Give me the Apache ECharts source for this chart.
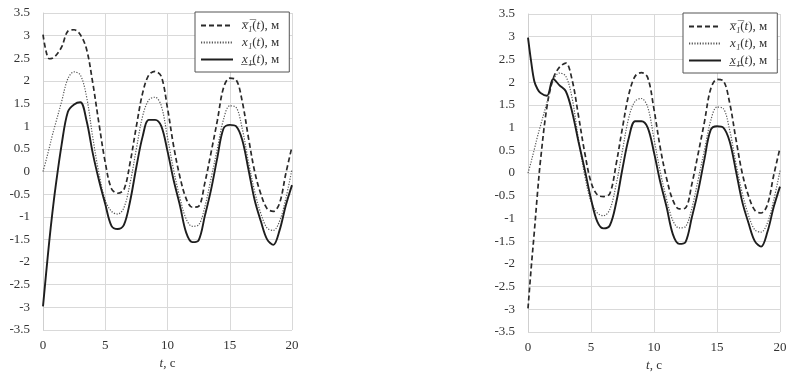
<!DOCTYPE html>
<html>
<head>
<meta charset="utf-8">
<script src="https://cdn.jsdelivr.net/npm/echarts@6/dist/echarts.min.js"></script>
<style>
  html, body { margin: 0; padding: 0; background: #fff; }
  #main { width: 800px; height: 377px; }
</style>
</head>
<body>
<div id="main"></div>
<script>
// time grid, s
var T = [0, 0.25, 0.5, 0.75, 1, 1.5, 2, 2.5, 3, 3.5, 4, 4.5, 5, 5.5, 6, 6.5, 7, 7.5, 8, 8.5,
  9, 9.5, 10, 10.5, 11, 11.5, 12, 12.5, 13, 13.5, 14, 14.5, 15, 15.5, 16, 16.5, 17, 17.5, 18, 18.5,
  19, 19.5, 20];

// left chart
var upperL = [3.02, 2.65, 2.49, 2.5, 2.55, 2.75, 3.1, 3.13, 3.02, 2.7, 1.95, 1.05, 0.2, -0.38, -0.48, -0.4,
  0.2, 1.0, 1.73, 2.13, 2.21, 2.1, 1.4, 0.55, -0.12, -0.6, -0.79, -0.77, -0.25, 0.42, 1.12, 1.85,
  2.06, 2.03, 1.55, 0.75, 0.0, -0.5, -0.82, -0.88, -0.7, -0.05, 0.55];
var midL = [0, 0.25, 0.52, 0.8, 1.05, 1.55, 2.05, 2.2, 2.13, 1.65, 0.75, -0.05, -0.63, -0.88, -0.94, -0.8,
  -0.25, 0.5, 1.22, 1.58, 1.64, 1.45, 0.75, 0.02, -0.58, -1.05, -1.21, -1.18, -0.78, -0.15, 0.5, 1.15,
  1.45, 1.42, 0.95, 0.22, -0.44, -0.93, -1.25, -1.3, -1.1, -0.6, 0.05];
var lowerL = [-2.98, -2.25, -1.55, -0.92, -0.36, 0.6, 1.32, 1.48, 1.53, 1.12, 0.4, -0.2, -0.72, -1.2, -1.27, -1.18,
  -0.65, 0.1, 0.77, 1.14, 1.14, 1.0, 0.45, -0.2, -0.75, -1.35, -1.56, -1.52, -0.98, -0.4, 0.3, 0.95,
  1.03, 1.0, 0.7, 0.05, -0.63, -1.1, -1.5, -1.62, -1.3, -0.75, -0.3];

// right chart (differs from the left one only up to t = 6.5 s)
var upperR = [-2.98, -2.1, -1.3, -0.45, 0.3, 1.45, 2.08, 2.33, 2.42, 2.05, 1.27, 0.45, -0.2, -0.48, -0.52, -0.45,
  0.2, 1.0, 1.73, 2.13, 2.21, 2.1, 1.4, 0.55, -0.12, -0.6, -0.79, -0.77, -0.25, 0.42, 1.12, 1.85,
  2.06, 2.03, 1.55, 0.75, 0.0, -0.5, -0.82, -0.88, -0.7, -0.05, 0.55];
var midR = midL;
var lowerR = [2.98, 2.45, 2.02, 1.85, 1.76, 1.7, 2.07, 1.93, 1.8, 1.35, 0.7, 0.08, -0.57, -1.07, -1.22, -1.15,
  -0.65, 0.1, 0.77, 1.14, 1.14, 1.0, 0.45, -0.2, -0.75, -1.35, -1.56, -1.52, -0.98, -0.4, 0.3, 0.95,
  1.03, 1.0, 0.7, 0.05, -0.63, -1.1, -1.5, -1.62, -1.3, -0.75, -0.3];

var names = ['upper', 'mid', 'lower'];

var FONT = '"Liberation Serif", "DejaVu Serif", serif';

function pairs(ys) {
  var out = [];
  for (var i = 0; i < T.length; i++) out.push([T[i], ys[i]]);
  return out;
}

var richTxt = {
  i: { fontStyle: 'italic', fontFamily: FONT, fontSize: 13, color: '#333' },
  n: { fontFamily: FONT, fontSize: 13, color: '#333' }
};

function legendFmt(name) {
  if (name === 'upper') return '{i|x\u0305\u2081\u0305}{n|(}{i|t}{n|), м}';
  if (name === 'mid') return '{i|x\u2081}{n|(}{i|t}{n|), м}';
  return '{i|x\u0332\u2081\u0332}{n|(}{i|t}{n|), м}';
}

function xAx(idx) {
  return {
    type: 'value', gridIndex: idx, min: 0, max: 20, interval: 5,
    name: '{i|t}{n|, с}', nameLocation: 'middle', nameGap: 27,
    nameTextStyle: { rich: richTxt },
    axisLine: { show: true, lineStyle: { color: '#cfcfcf' } },
    axisTick: { show: false },
    splitLine: { show: true, lineStyle: { color: '#d9d9d9' } },
    axisLabel: { fontFamily: FONT, fontSize: 13, color: '#333', margin: 9 }
  };
}
function yAx(idx) {
  return {
    type: 'value', gridIndex: idx, min: -3.5, max: 3.5, interval: 0.5,
    axisLine: { show: true, lineStyle: { color: '#cfcfcf' } },
    axisTick: { show: false },
    splitLine: { show: true, lineStyle: { color: '#d9d9d9' } },
    axisLabel: { fontFamily: FONT, fontSize: 13, color: '#333', margin: 13 }
  };
}

var styles = {
  upper: { color: '#2a2a2a', width: 1.7, type: [5, 3] },
  mid: { color: '#555', width: 1.2, type: [1.2, 1.5] },
  lower: { color: '#1e1e1e', width: 1.9, type: 'solid' }
};

function ser(name, idx, ys) {
  return {
    name: name, type: 'line', xAxisIndex: idx, yAxisIndex: idx,
    data: pairs(ys), showSymbol: false, symbol: 'none', smooth: 0.35,
    lineStyle: styles[name], itemStyle: { color: styles[name].color },
    animation: false
  };
}

function leg(left, top) {
  return {
    data: names,
    orient: 'vertical', left: left, top: top,
    itemWidth: 32, itemHeight: 10, itemGap: 4,
    padding: [7, 10, 6, 5],
    borderColor: '#555', borderWidth: 1, backgroundColor: '#fff',
    itemStyle: { opacity: 0 },
    formatter: legendFmt,
    textStyle: { rich: richTxt, padding: [0, 0, 0, 4] }
  };
}

var myChart = echarts.init(document.getElementById('main'), null, { renderer: 'canvas' });
var option = {
  backgroundColor: '#fff',
  animation: false,
  grid: [
    { left: 43, top: 13, width: 249, height: 317 },
    { left: 528, top: 14, width: 252, height: 323 }
  ],
  xAxis: [xAx(0), xAx(1)],
  yAxis: [yAx(0), yAx(1)],
  legend: [leg(195, 12), leg(683, 13)],
  series: [
    ser('upper', 0, upperL), ser('mid', 0, midL), ser('lower', 0, lowerL),
    ser('upper', 1, upperR), ser('mid', 1, midR), ser('lower', 1, lowerR)
  ]
};
myChart.setOption(option);
window.addEventListener('resize', function () {
  myChart.resize();
});
</script>
</body>
</html>
